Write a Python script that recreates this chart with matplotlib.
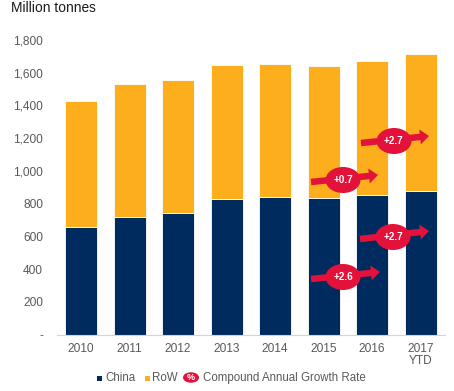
import matplotlib
matplotlib.use("Agg")
import matplotlib.pyplot as plt
import numpy as np
from matplotlib.patches import Ellipse, FancyArrow, Rectangle

plt.rcParams["font.family"] = ["Liberation Sans", "DejaVu Sans"]

years = ["2010", "2011", "2012", "2013", "2014", "2015", "2016", "2017\nYTD"]
china = [660, 720, 745, 830, 843, 833, 850, 875]
row = [765, 810, 810, 815, 812, 807, 820, 840]
yticks = [0, 200, 400, 600, 800, 1000, 1200, 1400, 1600, 1800]
ylabels = ["-", "200", "400", "600", "800", "1,000", "1,200", "1,400", "1,600", "1,800"]
cagr_labels = ["+2.6", "+2.7", "+0.7", "+2.7"]

NAVY = "#002b5f"
ORANGE = "#fdae1c"
RED = "#e2123a"
GREY = "#595959"
W, H = 454, 391

fig = plt.figure(figsize=(W / 100, H / 100), dpi=100)
ax = fig.add_axes([57 / W, 1 - 334.5 / H, 388 / W, 294.5 / H])

x = np.arange(len(years))
ax.bar(x, china, width=0.66, color=NAVY, edgecolor="white", linewidth=0.6)
ax.bar(x, row, width=0.66, bottom=china, color=ORANGE, edgecolor="white", linewidth=0.6)

ax.set_xlim(-0.495, 7.505)
ax.set_ylim(0, 1800)
ax.set_xticks(x)
ax.set_xticklabels(years, fontsize=8.6, color=GREY, linespacing=1.05)
ax.set_yticks(yticks)
ax.set_yticklabels(ylabels, fontsize=8.6, color=GREY)
ax.tick_params(length=0)
ax.tick_params(axis="x", pad=6)
ax.tick_params(axis="y", pad=10)
for s in ["top", "right", "left"]:
    ax.spines[s].set_visible(False)
ax.spines["bottom"].set_color("#d9d4c8")
ax.spines["bottom"].set_linewidth(0.8)


def px(a, b):
    # reference pixels -> figure fraction
    return a / W, 1 - b / H


# overlay for the CAGR arrows, in pixel coordinates
ov = fig.add_axes([0, 0, 1, 1], facecolor="none")
ov.set_xlim(0, W)
ov.set_ylim(H, 0)
ov.axis("off")

arrows = [(311, 279, 380, 272, 343, 277), (360, 239, 429, 231, 393, 237),
          (311, 182, 378, 175, 343, 180), (361, 143, 429, 136, 394, 141)]
for (x0, y0, x1, y1, cx, cy), lab in zip(arrows, cagr_labels):
    ov.add_patch(FancyArrow(x0, y0, x1 - x0, y1 - y0, width=6.5, head_width=15, head_length=9,
                            length_includes_head=True, color=RED, lw=0))
    ov.add_patch(Ellipse((cx, cy), 35, 26, color=RED, lw=0))
    ov.text(cx, cy, lab, color="white", fontsize=7.2, fontweight="bold", ha="center", va="center")

# legend drawn by hand since it has the red % badge
ov.add_patch(Rectangle((97, 375.5), 5, 5, color=NAVY, lw=0))
ov.text(105, 378, "China", fontsize=8.3, color=GREY, va="center")
ov.add_patch(Rectangle((145, 375.5), 5, 5, color=ORANGE, lw=0))
ov.text(152, 378, "RoW", fontsize=8.3, color=GREY, va="center")
ov.add_patch(Ellipse((191, 377.5), 16, 10.5, color=RED, lw=0))
ov.text(191, 377.5, "%", fontsize=6.5, color="white", fontweight="bold", ha="center", va="center")
ov.text(203, 378, "Compound Annual Growth Rate", fontsize=8.3, color=GREY, va="center")

fig.text(*px(11, 8.5), "Million tonnes", fontsize=9.9, color="#1a1a1a", va="center")

fig.savefig("out.png", dpi=100)
